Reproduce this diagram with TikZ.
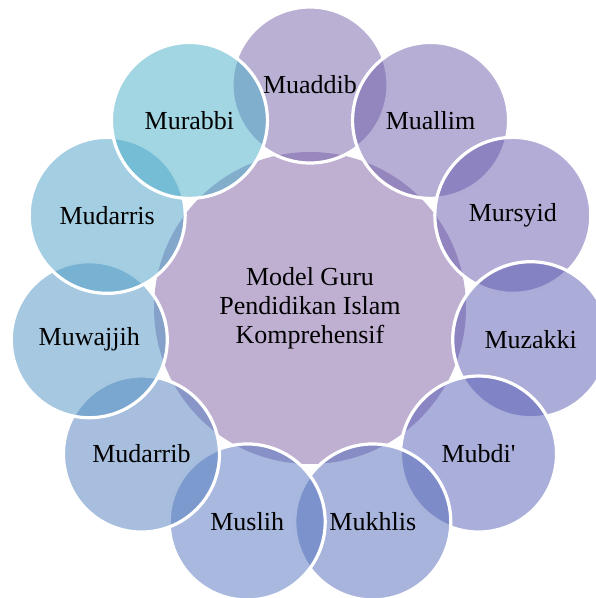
\documentclass[tikz,border=0pt]{standalone}
\usepackage{fontspec}
\setmainfont{Liberation Serif}
\definecolor{hubcol}{RGB}{191,176,210}
\definecolor{cA}{RGB}{117,97,169}
\definecolor{cB}{RGB}{109,93,169}
\definecolor{cC}{RGB}{101,89,173}
\definecolor{cD}{RGB}{89,89,177}
\definecolor{cE}{RGB}{85,93,181}
\definecolor{cF}{RGB}{81,105,185}
\definecolor{cG}{RGB}{81,113,189}
\definecolor{cH}{RGB}{81,125,189}
\definecolor{cI}{RGB}{77,145,193}
\definecolor{cJ}{RGB}{73,157,197}
\definecolor{cK}{RGB}{71,173,199}
\tikzset{
  outerc/.style={circle, minimum size=156pt, inner sep=0pt, fill opacity=0.5,
    draw=white, draw opacity=1, line width=3.2pt},
  hubc/.style={circle, minimum size=312pt, inner sep=0pt, fill=hubcol},
  lbl/.style={font=\fontsize{26}{29}\selectfont, text=black, inner sep=0pt},
}
\begin{document}
\begin{tikzpicture}[x=1pt,y=1pt]
\useasboundingbox (0,0) rectangle (596,598);
\clip (0,0) rectangle (596,598);
\node[hubc] (hub) at (310,290) {};
\foreach \name/\ang/\col in {muaddib/90/cA, muallim/57.27/cB, mursyid/24.55/cC,
  muzakki/-8.18/cD, mubdi/-40.91/cE, mukhlis/-73.64/cF, muslih/-106.36/cG,
  mudarrib/-139.09/cH, muwajjih/-171.82/cI, mudarris/-204.55/cJ, murabbi/-237.27/cK}{
  \path (hub.center) ++(\ang:223pt) node[outerc, fill=\col] (\name) {};
}
\node[lbl, align=center] (thub) at (hub.center) {Model Guru\\Pendidikan Islam\\Komprehensif};
\node[lbl] (tmuaddib) at (muaddib.center) {Muaddib};
\node[lbl] (tmuallim) at (muallim.center) {Muallim};
\node[lbl] (tmursyid) at (mursyid.center) {Mursyid};
\node[lbl] (tmuzakki) at (muzakki.center) {Muzakki};
\node[lbl] (tmubdi) at (mubdi.center) {Mubdi\textquotesingle};
\node[lbl] (tmukhlis) at (mukhlis.center) {Mukhlis};
\node[lbl] (tmuslih) at (muslih.center) {Muslih};
\node[lbl] (tmudarrib) at (mudarrib.center) {Mudarrib};
\node[lbl] (tmuwajjih) at (muwajjih.center) {Muwajjih};
\node[lbl] (tmudarris) at (mudarris.center) {Mudarris};
\node[lbl] (tmurabbi) at (murabbi.center) {Murabbi};
\end{tikzpicture}
\end{document}
